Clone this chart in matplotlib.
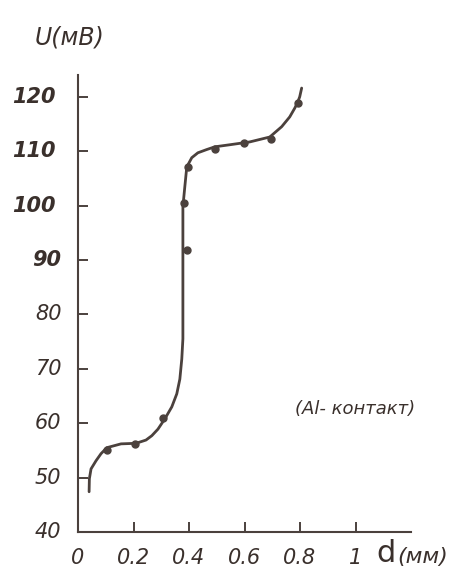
import matplotlib.pyplot as plt

# --- данные ---
# сглаженная кривая U(d)
curve_d = [0.040, 0.041, 0.047, 0.065, 0.083, 0.104, 0.155, 0.209, 0.245, 0.266,
           0.288, 0.313, 0.338, 0.356, 0.367, 0.374, 0.378, 0.378, 0.378, 0.385,
           0.392, 0.410, 0.432, 0.464, 0.493, 0.550, 0.619, 0.691, 0.734, 0.763,
           0.781, 0.791, 0.799, 0.806]
curve_u = [47.4, 49.8, 51.6, 53.1, 54.4, 55.5, 56.2, 56.3, 56.9, 57.7,
           58.9, 60.8, 63.0, 65.4, 68.1, 71.8, 75.5, 92.0, 99.8, 103.5,
           107.1, 108.8, 109.7, 110.3, 110.8, 111.2, 111.7, 112.6, 114.5, 116.3,
           117.9, 118.9, 120.0, 121.6]

# экспериментальные точки
pts_d = [0.104, 0.205, 0.306, 0.392, 0.381, 0.396, 0.493, 0.597, 0.694, 0.791]
pts_u = [55.1, 56.2, 61.0, 91.9, 100.5, 107.1, 110.4, 111.5, 112.3, 118.9]

y_ticks = [50, 60, 70, 80, 90, 100, 110, 120]
y_labels_all = [40, 50, 60, 70, 80, 90, 100, 110, 120]
x_ticks = [0.2, 0.4, 0.6, 0.8, 1.0]
x_labels = ["0", "0.2", "0.4", "0.6", "0.8", "1"]
x_label_pos = [0, 0.2, 0.4, 0.6, 0.8, 1.0]

ink = '#4b413d'
txt = '#3a302c'

fig = plt.figure(figsize=(4.66, 5.82), dpi=100)
ax = fig.add_axes([78 / 466, 1 - 532 / 582, 333 / 466, 457 / 582])

ax.plot(curve_d, curve_u, color=ink, lw=2.0, solid_capstyle='round',
        solid_joinstyle='round')
ax.plot(pts_d, pts_u, 'o', color=ink, ms=5, mfc=ink, mec=ink)

ax.set_xlim(0, 1.2)
ax.set_ylim(40, 124)

for s in ['top', 'right']:
    ax.spines[s].set_visible(False)
for s in ['left', 'bottom']:
    ax.spines[s].set_color(ink)
    ax.spines[s].set_linewidth(1.5)

ax.set_xticks(x_ticks)
ax.set_yticks(y_ticks)
ax.tick_params(direction='in', length=7, width=1.4, color=ink,
               labelleft=False, labelbottom=False)

# подписи делений (вручную, как на рисунке)
for v in y_labels_all:
    bold = v >= 90
    xoff = -0.08 if v >= 100 else -0.06
    ax.text(xoff, v, str(v), ha='right', va='center', fontsize=15,
            style='italic', fontweight='bold' if bold else 'normal', color=txt)
for p, lab in zip(x_label_pos, x_labels):
    ax.text(p, 35.3, lab, ha='center', va='center', fontsize=15,
            style='italic', color=txt)

fig.text(35 / 466, 1 - 38 / 582, "U(мВ)", fontsize=17, style='italic',
         color=txt, va='center')
fig.text(376 / 466, 1 - 553 / 582, "d", fontsize=22, color=txt, va='center')
fig.text(397 / 466, 1 - 557 / 582, "(мм)", fontsize=16, style='italic',
         color=txt, va='center')

ax.text(1.0, 62.6, "(Al- контакт)", fontsize=13, style='italic',
        color=txt, ha='center', va='center')

fig.savefig("out.png", dpi=100)
